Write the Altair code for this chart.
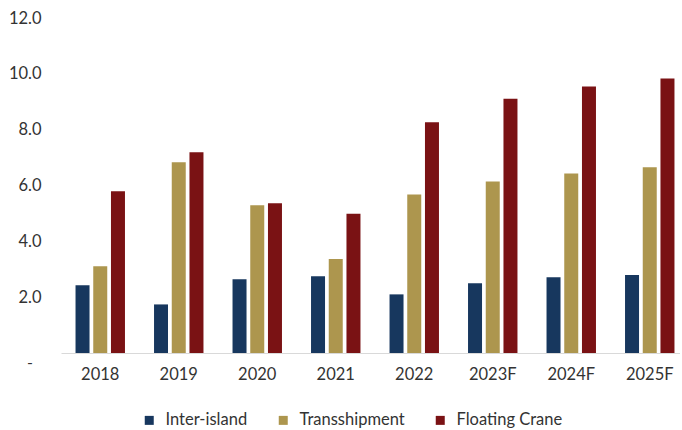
import altair as alt
import pandas as pd

years = ["2018", "2019", "2020", "2021", "2022", "2023F", "2024F", "2025F"]
series = ["Inter-island", "Transshipment", "Floating Crane"]
inter_island = [2.43, 1.74, 2.64, 2.75, 2.10, 2.50, 2.71, 2.79]
transshipment = [3.11, 6.83, 5.29, 3.37, 5.68, 6.14, 6.43, 6.65]
floating_crane = [5.79, 7.19, 5.36, 4.99, 8.27, 9.11, 9.55, 9.83]
colors = ["#17375E", "#AD964E", "#7A1214"]
y_ticks = [0, 2, 4, 6, 8, 10, 12]
zero_label = ["-"]

rows = []
for name, vals in zip(series, [inter_island, transshipment, floating_crane]):
    for yr, v in zip(years, vals):
        rows.append({"year": yr, "series": name, "value": v})
df = pd.DataFrame(rows)

FONT = "Lato"
TXT = "#333333"

bars = alt.Chart(df).mark_bar().encode(
    x=alt.X("year:N", sort=years,
            scale=alt.Scale(range=[0, 628], paddingInner=0, paddingOuter=0),
            axis=alt.Axis(title=None, labelAngle=0, ticks=False, tickSize=0,
                          domainColor="#D9D9D9", domainWidth=1,
                          labelFont=FONT, labelFontSize=16.5, labelColor=TXT,
                          labelPadding=13)),
    xOffset=alt.XOffset("series:N", sort=series,
                        scale=alt.Scale(paddingInner=0.21, paddingOuter=0.82)),
    y=alt.Y("value:Q",
            scale=alt.Scale(domain=[0, 12], nice=False),
            axis=alt.Axis(title=None, values=y_ticks, grid=False, ticks=False,
                          domain=False, labelFont=FONT, labelFontSize=16.5,
                          labelColor=TXT, labelPadding=20,
                          labelExpr="datum.value == 0 ? '' : format(datum.value, '.1f')")),
    color=alt.Color("series:N", sort=series,
                    scale=alt.Scale(domain=series, range=colors),
                    legend=alt.Legend(title=None, orient="none", direction="horizontal",
                                      legendX=80, legendY=394, padding=0,
                                      symbolType="square", symbolSize=81,
                                      symbolStrokeWidth=0, labelFont=FONT,
                                      labelFontSize=16.5, labelColor=TXT,
                                      labelOffset=8, columnPadding=27)),
)

zero = alt.Chart(pd.DataFrame({"label": zero_label})).mark_text(
    font=FONT, fontSize=16, color=TXT, align="center", baseline="middle", dy=10
).encode(
    x=alt.value(-31),
    y=alt.datum(0),
    text="label:N",
)

chart = alt.layer(bars, zero).properties(
    width=619, height=335,
    autosize=alt.AutoSizeParams(type="none"),
    padding={"left": 61, "top": 18, "right": 0, "bottom": 76},
).configure_view(stroke=None)

chart.save("out.html", embed_options={"renderer": "svg", "actions": False})
